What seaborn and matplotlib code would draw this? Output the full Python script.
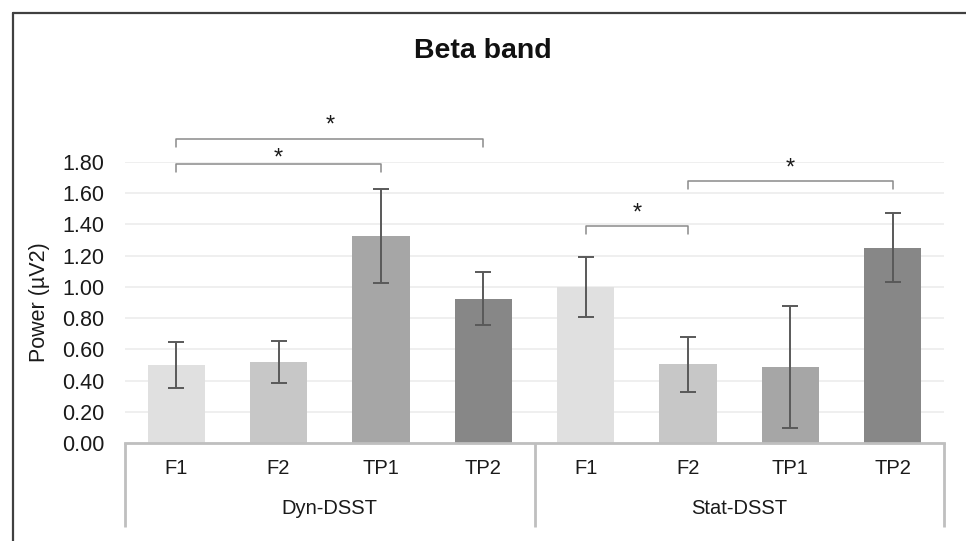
import matplotlib
matplotlib.use("Agg")
import matplotlib.pyplot as plt
from matplotlib.lines import Line2D
import seaborn as sns
import pandas as pd

# ---- data ----
groups = ["Dyn-DSST"] * 4 + ["Stat-DSST"] * 4
conds = ["F1", "F2", "TP1", "TP2"] * 2
means = [0.50, 0.52, 1.325, 0.925, 1.00, 0.505, 0.485, 1.25]
errs = [0.146, 0.134, 0.30, 0.168, 0.19, 0.175, 0.39, 0.222]
group_names = ["Dyn-DSST", "Stat-DSST"]
yticks = [0.0, 0.2, 0.4, 0.6, 0.8, 1.0, 1.2, 1.4, 1.6, 1.8]
# significance brackets: (start bar index, end bar index, bracket level, star level)
sig_start = [0, 0, 4, 5]
sig_end = [3, 2, 5, 7]
sig_level = [1.946, 1.787, 1.389, 1.676]
sig_star = [1.99, 1.78, 1.43, 1.72]

palette = {"F1": "#e0e0e0", "F2": "#c7c7c7", "TP1": "#a6a6a6", "TP2": "#878787"}

keys = [f"{g} {c}" for g, c in zip(groups, conds)]
df = pd.DataFrame({"key": keys, "cond": conds, "mean": means})

sns.set_theme(style="white")
plt.rcParams["font.family"] = ["Liberation Sans", "DejaVu Sans"]

fig = plt.figure(figsize=(9.66, 5.41), dpi=100)
ax = fig.add_axes([125 / 966, 1 - 443.3 / 541, 819 / 966, (443.3 - 161.7) / 541])

sns.barplot(data=df, x="key", y="mean", hue="cond", palette=palette, order=keys,
            dodge=False, width=0.56, errorbar=None, legend=False, ax=ax, saturation=1,
            linewidth=0)

xs = ax.get_xticks()
ax.errorbar(xs, means, yerr=errs, fmt="none", ecolor="#595959", elinewidth=1.4,
            capsize=5.5, capthick=1.4, zorder=5)

ax.set_ylim(0, 1.8)
ax.set_xlim(-0.5, 7.5)
ax.set_yticks(yticks, [f"{v:.2f}" for v in yticks])
ax.set_xticks(xs, conds)
ax.tick_params(axis="y", length=0, pad=15, labelsize=15.5, labelcolor="#1a1a1a")
ax.tick_params(axis="x", length=0, pad=11, labelsize=14.5, labelcolor="#1a1a1a")
ax.set_xlabel("")
ax.set_ylabel("Power (µV2)", fontsize=15.5, color="#1a1a1a", va="center")
ax.yaxis.set_label_coords(-85 / 819, 0.5)

ax.yaxis.grid(True, color="#ececec", lw=1.2)
ax.set_axisbelow(True)
for s in ["top", "right", "left"]:
    ax.spines[s].set_visible(False)
ax.spines["bottom"].set_color("#bfbfbf")
ax.spines["bottom"].set_linewidth(2)

# category box below the axis
tr = ax.get_xaxis_transform()
for xv in [-0.5, 3.5, 7.5]:
    ax.plot([xv, xv], [0, -84 / 281.6], transform=tr, color="#bfbfbf", lw=2,
            clip_on=False, solid_capstyle="butt")
for i, g in enumerate(group_names):
    ax.text(1.5 + 4 * i, -(509 - 443.3) / 281.6, g, transform=tr, ha="center",
            va="center", fontsize=14.5, color="#1a1a1a")

# significance brackets
tick = 0.05
for a, b, lv, st in zip(sig_start, sig_end, sig_level, sig_star):
    ax.plot([xs[a], xs[a], xs[b], xs[b]], [lv - tick, lv, lv, lv - tick],
            color="#8a8a8a", lw=1.1, clip_on=False)
    ax.text((xs[a] + xs[b]) / 2, st, "*", ha="center", va="baseline",
            fontsize=17, color="#1a1a1a", clip_on=False)

fig.text(483 / 966, 1 - 50.5 / 541, "Beta band", ha="center", va="center",
         fontsize=20.5, fontweight="bold", color="#111111")

# outer frame (left and top edges)
fig.add_artist(Line2D([12.7 / 966, 12.7 / 966], [0, 1 - 13 / 541],
                      transform=fig.transFigure, color="#404040", lw=1.6))
fig.add_artist(Line2D([12.7 / 966, 1.0], [1 - 13 / 541, 1 - 13 / 541],
                      transform=fig.transFigure, color="#404040", lw=1.6))

fig.savefig("out.png", dpi=100)
